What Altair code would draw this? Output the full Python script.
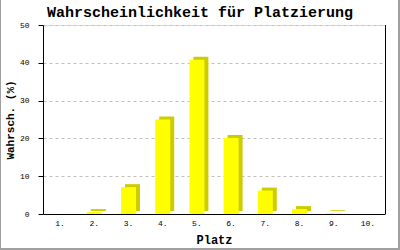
import altair as alt
import pandas as pd

places = ["1.", "2.", "3.", "4.", "5.", "6.", "7.", "8.", "9.", "10."]
values = [0, 0.5, 7.1, 25.0, 40.8, 20.1, 6.2, 1.3, 0.2, 0]
y_ticks = [0, 10, 20, 30, 40, 50]
title_text = "Wahrscheinlichkeit für Platzierung"

df = pd.DataFrame({"Platz": places, "Wert": values})

W, H = 342, 189
MONO = "Liberation Mono"

x_enc = alt.X("Platz:N", sort=places, scale=alt.Scale(paddingInner=0, paddingOuter=0),
              axis=alt.Axis(title="Platz", labelAngle=0, labelFont=MONO, labelFontSize=8,
                            labelColor="black", labelBaseline="middle", labelPadding=9,
                            ticks=False, tickSize=0, domainColor="black", grid=False,
                            titleFont=MONO, titleFontSize=12, titleFontWeight="bold",
                            titleColor="black", titleBaseline="middle", titleY=25))
y_enc = alt.Y("Wert:Q", scale=alt.Scale(domain=[0, 50], nice=False, zero=True),
              axis=alt.Axis(title="Wahrsch. (%)", values=y_ticks, labelOverlap=False,
                            labelFont=MONO, labelFontSize=8, labelColor="black",
                            labelBaseline="middle", labelPadding=9, tickSize=5,
                            tickColor="black", domainColor="black", labelFlush=False,
                            grid=True, gridColor="#c0c0c0", gridDash=[3, 3],
                            titleFont=MONO, titleFontSize=11, titleFontWeight="bold",
                            titleColor="black", titleAngle=270, titleAlign="center",
                            titleBaseline="middle", titleX=-33, titleY=H / 2))

shadow = alt.Chart(df).transform_filter("datum.Wert > 0").mark_bar(
    size=15, color="#cccc00", xOffset=4, yOffset=-3
).encode(x=x_enc, y=y_enc)

front = alt.Chart(df).mark_bar(size=15, color="#ffff00").encode(x=x_enc, y=y_enc)

right_line = alt.Chart(df).mark_rule(color="black", strokeWidth=1).encode(
    x=alt.value(W + 0.5), y=alt.value(0), y2=alt.value(H)
)

title_mark = alt.Chart(pd.DataFrame({"t": [title_text]})).mark_text(
    font=MONO, fontSize=15, fontWeight="bold", color="black",
    align="center", baseline="alphabetic"
).encode(text="t:N", x=alt.value(157), y=alt.value(-8))

border_left = alt.Chart(df).mark_rule(color="#a0a0a0", strokeWidth=1).encode(
    x=alt.value(-42.5), y=alt.value(-25), y2=alt.value(225)
)
border_right = alt.Chart(df).mark_rule(color="#a0a0a0", strokeWidth=2).encode(
    x=alt.value(356), y=alt.value(-25), y2=alt.value(225)
)
border_bottom = alt.Chart(df).mark_rule(color="#a0a0a0", strokeWidth=2).encode(
    x=alt.value(-43), x2=alt.value(357), y=alt.value(224)
)

chart = alt.layer(shadow, front, right_line, title_mark,
                  border_left, border_right, border_bottom).properties(
    width=W,
    height=H,
    autosize=alt.AutoSizeParams(type="none"),
    padding={"left": 43, "top": 25, "right": 15, "bottom": 36},
).configure_view(strokeOpacity=0, strokeWidth=0).configure(background="white")

chart.save("out.html", embed_options={"renderer": "svg", "actions": False})
